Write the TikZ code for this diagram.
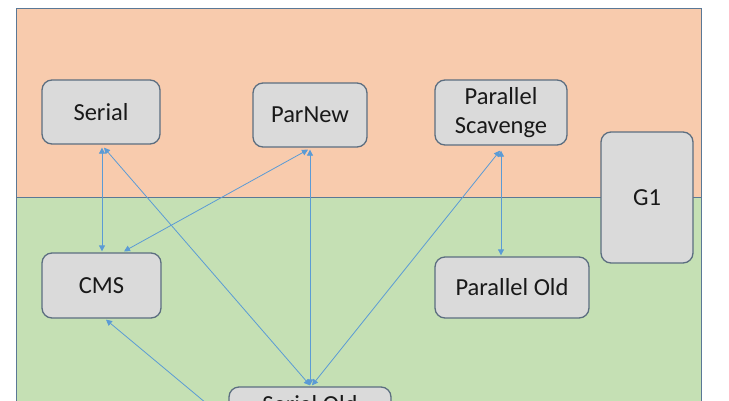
\documentclass[tikz,border=0pt]{standalone}
\usepackage{fontspec}
\setmainfont{Carlito}
\usetikzlibrary{arrows.meta,calc}
\definecolor{topbg}{HTML}{F8CBAD}
\definecolor{botbg}{HTML}{C5E0B4}
\definecolor{framecol}{HTML}{5A7896}
\definecolor{nodefill}{HTML}{DADADA}
\definecolor{nodeline}{HTML}{5C6E80}
\definecolor{arrowblue}{HTML}{5B9BD5}
\begin{document}
\begin{tikzpicture}[x=1pt,y=-1pt,
  gcbox/.style={draw=nodeline, fill=nodefill, rounded corners=10pt, line width=1.3pt,
    font=\fontsize{24.5}{29}\selectfont, text=black!90, inner sep=2pt, align=center},
  conn/.style={draw=arrowblue, line width=0.8pt,
    {Triangle[length=6pt,width=6pt]}-{Triangle[length=6pt,width=6pt]}},
  oneway/.style={draw=arrowblue, line width=0.8pt, -{Triangle[length=6pt,width=6pt]}},
  framed/.style={draw=framecol, line width=1pt}]
\useasboundingbox (0,0) rectangle (729,400);
\clip (0,0) rectangle (729,400);
\fill[white] (0,0) rectangle (729,400);
\fill[topbg] (16.5,8.5) rectangle (701.5,197.5);
\fill[botbg] (16.5,197.5) rectangle (701.5,460);
\draw[framed] (16.5,460) -- (16.5,8.5) -- (701.5,8.5) -- (701.5,460);
\draw[framed] (16.5,197.5) -- (701.5,197.5);

\node[gcbox, minimum width=118pt, minimum height=64pt] (serial) at (101,112) {Serial};
\node[gcbox, minimum width=114pt, minimum height=64pt] (parnew) at (310,115) {ParNew};
\node[gcbox, minimum width=132pt, minimum height=65pt] (ps) at (501,112.5) {Parallel\\Scavenge};
\node[gcbox, minimum width=92pt, minimum height=131pt] (g1) at (647,197.5) {G1};
\node[gcbox, minimum width=119pt, minimum height=65pt] (cms) at (101.5,285.5) {CMS};
\node[gcbox, minimum width=154pt, minimum height=61pt] (parold) at (512,287.5) {Parallel Old};
\node[gcbox, minimum width=162pt, minimum height=34pt] (serialold) at (310,404) {Serial Old};

\draw[conn] ($(serial.south)+(1,3)$) -- ($(cms.north)+(0.5,-1)$);
\draw[conn] ($(serial.south)+(3,3)$) -- ($(serialold.north)+(0,-1)$);
\draw[conn] ($(parnew.south)+(-2,2)$) -- ($(cms.north)+(22.5,-1)$);
\draw[conn] ($(parnew.south)+(0,2)$) -- ($(serialold.north)+(0,-1)$);
\draw[conn] ($(ps.south)+(-1,5)$) -- ($(serialold.north)+(2,-1)$);
\draw[conn] ($(ps.south)+(0,5)$) -- ($(parold.north)+(-11,-1)$);
\draw[oneway] (serialold.south west) -- ($(cms.south)+(4.5,1)$);
\end{tikzpicture}
\end{document}
